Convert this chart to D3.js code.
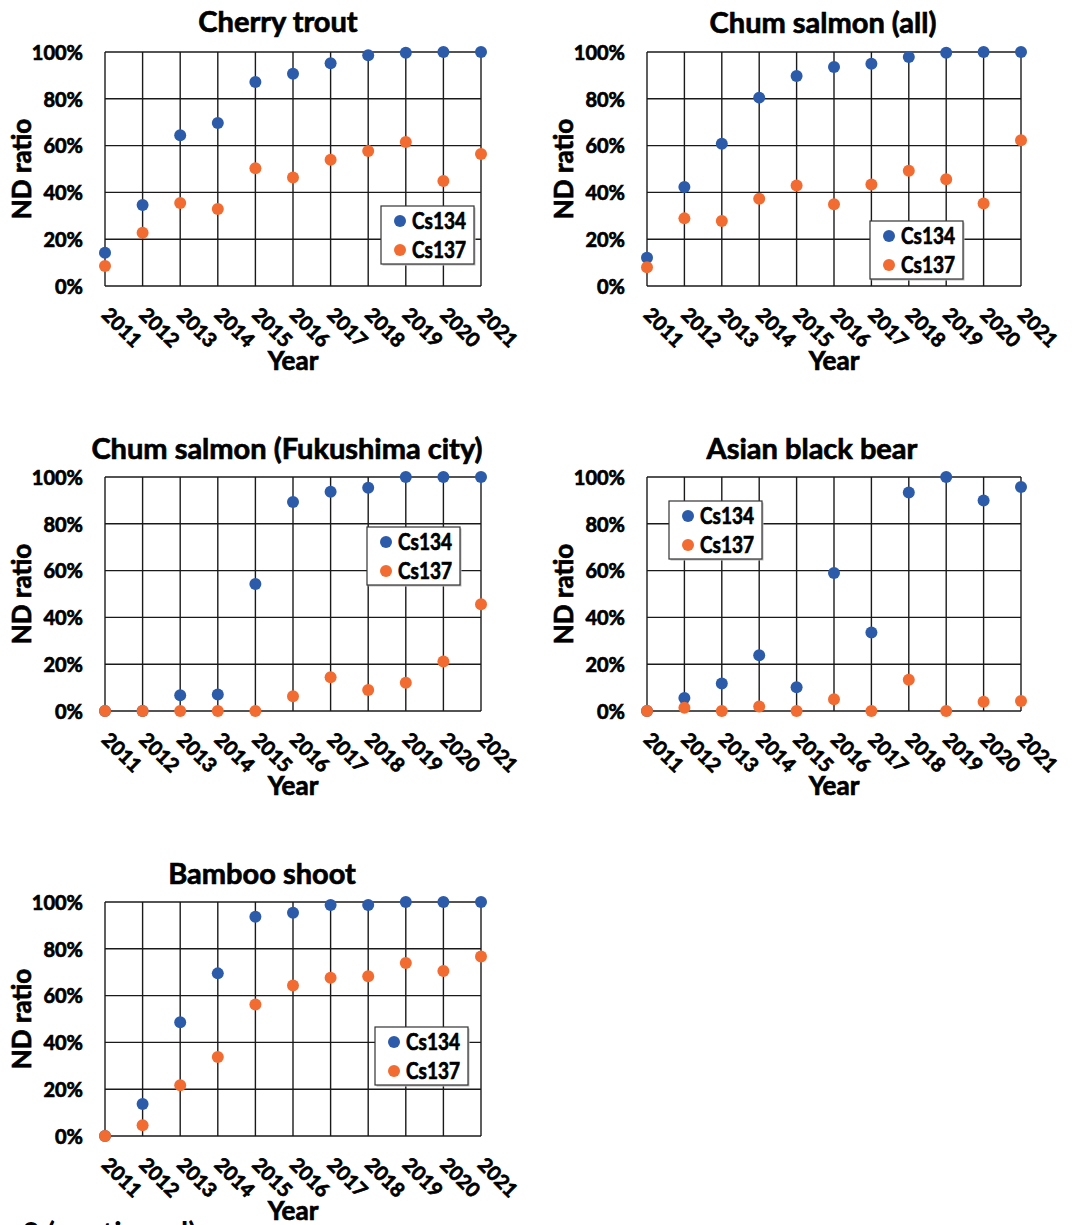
<!DOCTYPE html>
<html><head><meta charset="utf-8">
<script src="https://cdn.jsdelivr.net/npm/d3@7"></script>
<style>
html,body{margin:0;padding:0;background:#fff;}
svg{display:block;}
text{font-family:"Lato","Liberation Sans",sans-serif;font-weight:700;fill:#000;stroke:#000;stroke-width:0.7px;}
text.serif{stroke:none;}
</style></head>
<body>
<svg id="c" width="1081" height="1225"></svg>
<script>
const years = [2011,2012,2013,2014,2015,2016,2017,2018,2019,2020,2021];
const yTicks = [0,0.2,0.4,0.6,0.8,1.0];
const seriesNames = ["Cs134","Cs137"];
const titles = ["Cherry trout","Chum salmon (all)","Chum salmon (Fukushima city)","Asian black bear","Bamboo shoot"];

const cherryCs134 = [0.142,0.346,0.644,0.697,0.872,0.907,0.952,0.986,0.997,1.0,1.0];
const cherryCs137 = [0.085,0.228,0.355,0.329,0.503,0.464,0.540,0.577,0.615,0.449,0.564];
const chumAllCs134 = [0.121,0.423,0.608,0.805,0.897,0.936,0.950,0.979,0.997,1.0,1.0];
const chumAllCs137 = [0.080,0.289,0.278,0.373,0.429,0.349,0.434,0.493,0.456,0.353,0.623];
const chumFukuCs134 = [0,0,0.067,0.071,0.543,0.893,0.937,0.954,1.0,1.0,1.0];
const chumFukuCs137 = [0,0,0,0,0,0.063,0.144,0.090,0.121,0.212,0.456];
const bearCs134 = [0,0.056,0.118,0.238,0.101,0.590,0.335,0.934,1.0,0.900,0.957];
const bearCs137 = [0,0.014,0,0.019,0,0.050,0,0.134,0,0.040,0.043];
const bambooCs134 = [0,0.137,0.486,0.695,0.937,0.954,0.987,0.987,1.0,1.0,1.0];
const bambooCs137 = [0,0.046,0.217,0.338,0.562,0.643,0.676,0.683,0.739,0.705,0.767];

const panelData = [
  [cherryCs134, cherryCs137],
  [chumAllCs134, chumAllCs137],
  [chumFukuCs134, chumFukuCs137],
  [bearCs134, bearCs137],
  [bambooCs134, bambooCs137]
];

// layout (positions only)
const layout = [
  {l:105,t:52,r:481,b:286, tx:278, ty:32, lg:[381,206]},
  {l:647,t:52,r:1021,b:286, tx:823, ty:33, lg:[870,221]},
  {l:105,t:477,r:481,b:711, tx:287, ty:459, lg:[367,527]},
  {l:647,t:477,r:1021,b:711, tx:812, ty:459, lg:[669,501]},
  {l:105,t:902,r:481,b:1136, tx:262, ty:884, lg:[375,1027]}
];
const colors = ["#2C5BAA","#F26B30"];
const svg = d3.select("#c");

titles.forEach((title,i)=>{
  const L = layout[i];
  const g = svg.append("g");
  const x = d3.scalePoint().domain(years).range([L.l, L.r]);
  const y = d3.scaleLinear().domain([0,1]).range([L.b, L.t]);

  // grid
  g.append("g").selectAll("line.h").data(yTicks).join("line")
    .attr("x1",L.l).attr("x2",L.r).attr("y1",d=>y(d)).attr("y2",d=>y(d))
    .attr("stroke","#1a1a1a").attr("stroke-width",1.4);
  g.append("g").selectAll("line.v").data(years).join("line")
    .attr("x1",d=>x(d)).attr("x2",d=>x(d)).attr("y1",L.t).attr("y2",L.b)
    .attr("stroke","#1a1a1a").attr("stroke-width",1.4);

  // y axis labels
  const yAxis = d3.axisLeft(y).tickValues(yTicks).tickFormat(d3.format(".0%")).tickSize(0).tickPadding(22);
  const ya = g.append("g").attr("transform",`translate(${L.l},0)`).call(yAxis);
  ya.select(".domain").remove();
  ya.selectAll("text").attr("font-size",20).attr("font-family","Lato").attr("font-weight",700).attr("fill","#000").attr("dy","0.36em");

  // x axis labels rotated
  const xAxis = d3.axisBottom(x).tickSize(0).tickPadding(0);
  const xa = g.append("g").attr("transform",`translate(0,${L.b})`).call(xAxis);
  xa.select(".domain").remove();
  xa.selectAll("text")
    .attr("font-size",20).attr("font-family","Lato").attr("font-weight",700).attr("fill","#000")
    .attr("text-anchor","start").attr("y",0).attr("dy",0)
    .attr("transform",d=>`translate(-5,30) rotate(45)`);

  // titles
  g.append("text").attr("x",L.tx).attr("y",L.ty).attr("text-anchor","middle").attr("font-size",29).text(title);
  g.append("text").attr("transform",`translate(${L.l-74},${(L.t+L.b)/2}) rotate(-90)`)
    .attr("text-anchor","middle").attr("font-size",26).text("ND ratio");
  g.append("text").attr("x",(L.l+L.r)/2).attr("y",L.b+84).attr("text-anchor","middle").attr("font-size",26).text("Year");

  // points
  panelData[i].forEach((vals,s)=>{
    g.append("g").selectAll("circle").data(vals).join("circle")
      .attr("cx",(d,k)=>x(years[k])).attr("cy",d=>y(d)).attr("r",6)
      .attr("fill",colors[s]);
  });

  // legend
  const lg = g.append("g").attr("transform",`translate(${L.lg[0]},${L.lg[1]})`);
  lg.append("rect").attr("x",1.5).attr("y",1.5).attr("width",93).attr("height",58).attr("fill","#bbb");
  lg.append("rect").attr("width",93).attr("height",58).attr("fill","#fff").attr("stroke","#333").attr("stroke-width",1.2);
  seriesNames.forEach((n,s)=>{
    lg.append("circle").attr("cx",19).attr("cy",15+s*29).attr("r",6).attr("fill",colors[s]);
    lg.append("text").attr("x",31).attr("y",15+s*29).attr("dy","0.36em").attr("font-size",22)
      .attr("textLength",54).attr("lengthAdjust","spacingAndGlyphs").text(n);
  });
});

svg.append("text").attr("class","serif").attr("x",22).attr("y",1244).attr("font-family","Liberation Serif").attr("font-weight",400)
  .attr("font-size",30).text("3 (continued)");
</script>
</body></html>
